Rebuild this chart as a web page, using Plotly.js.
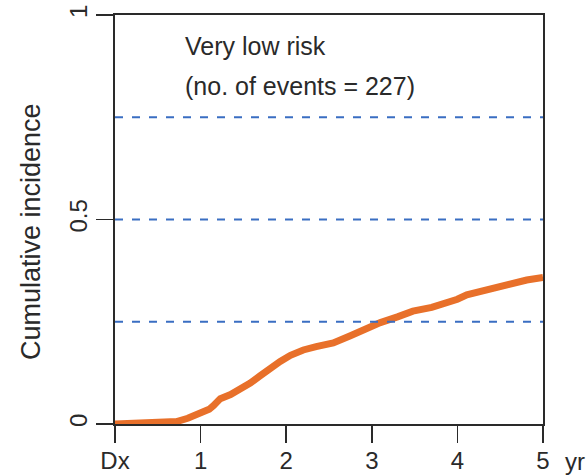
<!DOCTYPE html>
<html>
<head>
<meta charset="utf-8">
<script src="https://cdn.plot.ly/plotly-3.0.1.min.js"></script>
<style>html,body{margin:0;padding:0;background:#fff;}#chart{width:588px;height:475px;}</style>
</head>
<body>
<div id="chart"></div>
<script>
var years = [0, 0.3, 0.5, 0.72, 0.85, 1.0, 1.1, 1.15, 1.23, 1.35, 1.46, 1.58, 1.69, 1.8, 1.93, 2.05, 2.2, 2.35, 2.55, 2.75, 2.94, 3.1, 3.3, 3.48, 3.7, 3.91, 4.0, 4.11, 4.3, 4.46, 4.65, 4.81, 5.0];
var incidence = [0, 0.001, 0.003, 0.006, 0.014, 0.027, 0.036, 0.045, 0.062, 0.072, 0.084, 0.1, 0.117, 0.135, 0.153, 0.168, 0.181, 0.189, 0.198, 0.216, 0.235, 0.248, 0.262, 0.276, 0.285, 0.296, 0.305, 0.316, 0.326, 0.337, 0.345, 0.352, 0.358];
var refLevels = [0.25, 0.5, 0.75];
var xTickVals = [0, 1, 2, 3, 4, 5];
var xTickText = ['Dx', '1', '2', '3', '4', '5'];
var yTickVals = [0, 0.5, 1];
var yTickText = ['0', '0.5', '1'];
var titleLines = ['Very low risk', '(no. of events = 227)'];
var yTitle = 'Cumulative incidence';
var xUnit = 'yr';

var font = 'Liberation Sans, Arial, sans-serif';
var ink = '#2a2a2a';
var shapes = refLevels.map(function(v){
  return {type:'line', xref:'x', yref:'y', x0:0, x1:5, y0:v, y1:v,
          line:{color:'#3A6EC2', width:2, dash:'8px,9px'}};
});

var trace = {x: years, y: incidence, mode:'lines', type:'scatter',
  line:{color:'#E8702A', width:7, shape:'linear'}, hoverinfo:'skip'};

var layout = {
  width:588, height:475,
  margin:{l:115, r:45, t:15, b:51, pad:0},
  paper_bgcolor:'#fff', plot_bgcolor:'#fff',
  showlegend:false,
  font:{family:font, size:22, color:ink},
  xaxis:{range:[0,5], tickvals:xTickVals, ticktext:xTickText, ticks:'outside', ticklen:17, tickwidth:1.6, tickcolor:ink,
    showline:true, linewidth:1.8, linecolor:ink, mirror:true, showgrid:false, zeroline:false, ticklabelstandoff:-3,
    tickfont:{size:24, family:font, color:ink}},
  yaxis:{range:[0,1], tickvals:yTickVals, ticktext:yTickText, ticks:'outside', ticklen:17, tickwidth:1.6, tickcolor:ink,
    tickangle:-90, showline:true, linewidth:1.8, linecolor:ink, mirror:true, showgrid:false, zeroline:false,
    tickfont:{size:24, family:font, color:ink}},
  shapes: shapes,
  annotations:[
    {xref:'paper', yref:'paper', x:(183-115)/428, y:(424-46)/409, text:titleLines[0], showarrow:false, xanchor:'left', yanchor:'middle', font:{size:25, family:font, color:ink}},
    {xref:'paper', yref:'paper', x:(183-115)/428, y:(424-86)/409, text:titleLines[1], showarrow:false, xanchor:'left', yanchor:'middle', font:{size:25, family:font, color:ink}},
    {xref:'paper', yref:'paper', x:(563-115)/428, y:-(461-424)/409, text:xUnit, showarrow:false, xanchor:'left', yanchor:'middle', font:{size:24, family:font, color:ink}},
    {xref:'paper', yref:'paper', x:(31-115)/428, y:(424-232)/409, text:yTitle, textangle:-90, showarrow:false, xanchor:'center', yanchor:'middle', font:{size:27, family:font, color:ink}}
  ]
};
Plotly.newPlot('chart', [trace], layout, {displayModeBar:false, staticPlot:true});
</script>
</body>
</html>
